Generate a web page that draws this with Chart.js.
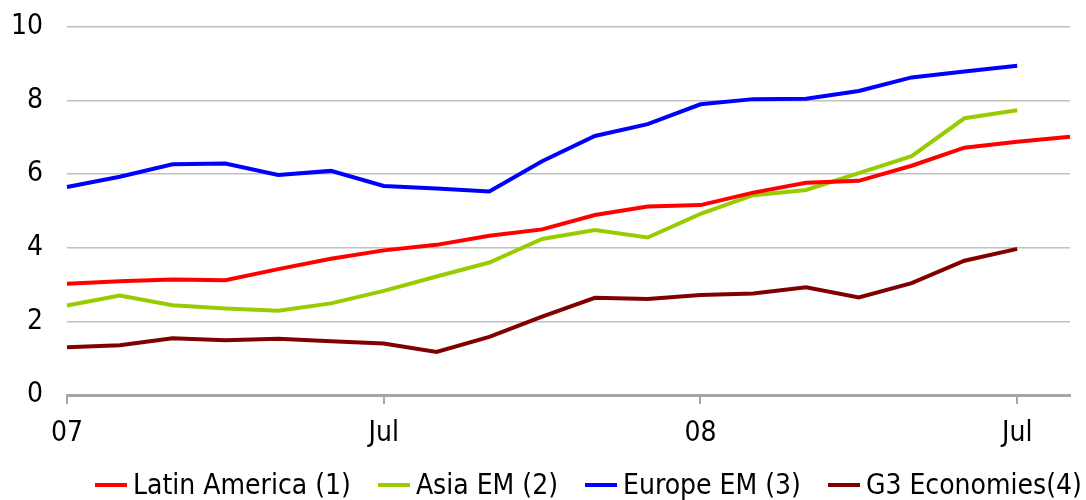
<!DOCTYPE html>
<html>
<head>
<meta charset="utf-8">
<script src="https://cdn.jsdelivr.net/npm/chart.js@4"></script>
<style>
  body { margin:0; background:#fff; }
  #wrap { position:relative; width:1086px; height:500px; }
  #legend { position:absolute; left:95px; top:470px; display:flex; align-items:center; gap:27px;
            font-family:'DejaVu Sans Condensed','DejaVu Sans',sans-serif; font-size:28px; line-height:30px; color:#000; white-space:nowrap; }
  .item { display:flex; align-items:center; gap:6px; }
  .mark { width:32px; height:4px; }
</style>
</head>
<body>
<div id="wrap">
  <canvas id="c" width="1086" height="500"></canvas>
  <div id="legend"></div>
</div>
<script>
// monthly, Jan 07 .. Aug 08
const months = ['07','Feb','Mar','Apr','May','Jun','Jul','Aug','Sep','Oct','Nov','Dec','08','Feb','Mar','Apr','May','Jun','Jul','Aug'];
const tickIdx = [0,6,12,18];
const tickLabels = ['07','Jul','08','Jul'];
const yTicks = [0,2,4,6,8,10];

const latinAmerica = [3.02,3.09,3.14,3.12,3.42,3.70,3.93,4.08,4.33,4.50,4.89,5.12,5.16,5.50,5.77,5.82,6.23,6.72,6.88,7.02];
const asiaEM       = [2.43,2.70,2.44,2.35,2.29,2.49,2.83,3.22,3.60,4.24,4.48,4.28,4.92,5.43,5.57,6.03,6.49,7.52,7.74];
const europeEM     = [5.65,5.93,6.27,6.29,5.98,6.09,5.68,5.61,5.53,6.35,7.04,7.36,7.90,8.04,8.05,8.26,8.63,8.79,8.95];
const g3           = [1.30,1.35,1.54,1.49,1.53,1.46,1.40,1.17,1.58,2.13,2.64,2.61,2.72,2.76,2.93,2.65,3.04,3.65,3.97];

const seriesNames = ['Latin America (1)','Asia EM (2)','Europe EM (3)','G3 Economies(4)'];
const seriesData  = [latinAmerica, asiaEM, europeEM, g3];
const colors      = ['#ff0000','#99cc00','#0000ff','#800000'];

const FONT = "'DejaVu Sans Condensed','DejaVu Sans',sans-serif";

new Chart(document.getElementById('c').getContext('2d'), {
  type:'line',
  data:{
    labels:months,
    datasets:seriesNames.map((n,i)=>({ label:n, data:seriesData[i], borderColor:colors[i], backgroundColor:colors[i],
      borderWidth:4, pointRadius:0, tension:0, fill:false })),
  },
  options:{
    responsive:false, animation:false, devicePixelRatio:1,
    layout:{ padding:{ top:27, right:16, left:0, bottom:0 } },
    plugins:{ legend:{display:false}, tooltip:{enabled:false} },
    scales:{
      x:{
        offset:false,
        afterFit:s=>{ s.height = 105; s.paddingLeft = 0; s.paddingRight = 0; },
        ticks:{ autoSkip:false, maxRotation:0, padding:13, color:'#000', font:{family:FONT, size:28},
                callback:(v,i)=>{ const k = tickIdx.indexOf(i); return k>=0 ? tickLabels[k] : ''; } },
        grid:{ drawOnChartArea:false, drawTicks:true, tickLength:9, lineWidth:2,
               color:c=>tickIdx.includes(c.index) ? '#a6a6a6' : 'rgba(0,0,0,0)' },
        border:{ display:true, color:'#a6a6a6', width:3 },
      },
      y:{
        min:0, max:10,
        afterFit:s=>{ s.width = 67; s.paddingTop = 0; s.paddingBottom = 0; },
        afterBuildTicks:s=>{ s.ticks = yTicks.map(v=>({value:v})); },
        ticks:{ padding:24, color:'#000', font:{family:FONT, size:28} },
        grid:{ drawTicks:false, lineWidth:1.5, color:c=>c.tick && c.tick.value===0 ? 'rgba(0,0,0,0)' : '#c0c0c0' },
        border:{ display:false },
      },
    },
  },
});

const lg = document.getElementById('legend');
seriesNames.forEach((n,i)=>{
  const it = document.createElement('div'); it.className='item';
  const m = document.createElement('div'); m.className='mark'; m.style.background = colors[i];
  const t = document.createElement('span'); t.textContent = n;
  it.appendChild(m); it.appendChild(t); lg.appendChild(it);
});
</script>
</body>
</html>
